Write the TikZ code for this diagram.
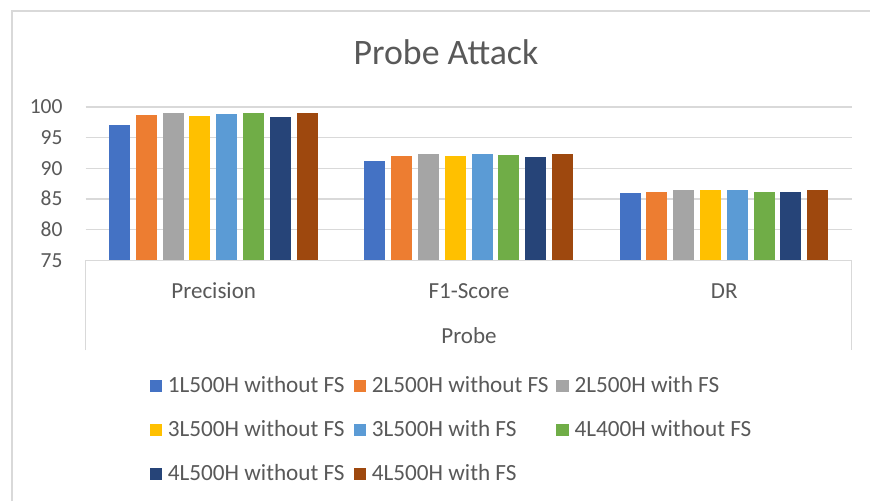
\documentclass[tikz,border=0pt]{standalone}
\usepackage{fontspec}
\setmainfont{Carlito}
\definecolor{txt}{HTML}{595959}
\definecolor{rule}{HTML}{D9D9D9}
\definecolor{c0}{HTML}{4472C4}
\definecolor{c1}{HTML}{ED7D31}
\definecolor{c2}{HTML}{A5A5A5}
\definecolor{c3}{HTML}{FFC000}
\definecolor{c4}{HTML}{5B9BD5}
\definecolor{c5}{HTML}{70AD47}
\definecolor{c6}{HTML}{264478}
\definecolor{c7}{HTML}{9E480E}
\tikzset{
  rulestyle/.style={draw=rule, line width=1.5pt},
  ticklabel/.style={text=txt, inner sep=0pt, font=\fontsize{21.5}{24}\selectfont, anchor=base east},
  catlabel/.style={text=txt, inner sep=0pt, font=\fontsize{23}{26}\selectfont, anchor=base},
  legtext/.style={text=txt, inner sep=0pt, font=\fontsize{23.2}{26}\selectfont, anchor=base west},
  legkey/.style={minimum size=12.7pt, inner sep=0pt, anchor=north west},
  titlestyle/.style={text=txt, inner sep=0pt, font=\fontsize{35.8}{40}\selectfont, anchor=base}
}
\begin{document}
\begin{tikzpicture}[x=1pt, y=-1pt]
\useasboundingbox (0,0) rectangle (870,501);
\fill[white] (0,0) rectangle (870,501);

% chart frame (open on the right and bottom)
\draw[rulestyle] (12,501) -- (12,11) -- (870,11);

% title
\node[titlestyle] (title) at (446,64.3) {Probe Attack};

% horizontal gridlines
\foreach \v in {80,85,90,95,100}
  \draw[rulestyle] (85.7,{260.3-(\v-75)*6.132}) -- (851.7,{260.3-(\v-75)*6.132});

% value axis labels
\foreach \v in {75,80,85,90,95,100}
  \node[ticklabel] (tick\v) at (62.7,{260.3-(\v-75)*6.132+6.9}) {\v};

% clustered bars: one group per metric, one bar per model
\foreach \vals [count=\g from 0] in {
    {97.1,98.65,99.0,98.5,98.9,99.1,98.3,99.0},
    {91.25,91.95,92.3,92.05,92.3,92.15,91.8,92.35},
    {86.0,86.1,86.4,86.5,86.5,86.1,86.1,86.5}} {
  \foreach \v [count=\j from 0] in \vals {
    \pgfmathsetmacro\xl{109+\g*255.33+\j*26.8}
    \fill[c\j] (\xl,260.3) rectangle ++(21,{-(\v-75)*6.132});
  }
}

% category axis box
\draw[rulestyle] (85.7,350) -- (85.7,260.3) -- (851.7,260.3) -- (851.7,350);

% category labels
\node[catlabel] (catP) at (213.7,298.3) {Precision};
\node[catlabel] (catF) at (469,298.3) {F1-Score};
\node[catlabel] (catD) at (724.3,298.3) {DR};
\node[catlabel] (group) at (469,343.5) {Probe};

% legend
\foreach \col/\x/\y/\name [count=\k] in {
    c0/149.3/379.3/1L500H without FS,
    c1/353.3/379.3/2L500H without FS,
    c2/556.0/379.3/2L500H with FS,
    c3/149.3/423.3/3L500H without FS,
    c4/353.3/423.3/3L500H with FS,
    c5/556.0/423.3/4L400H without FS,
    c6/149.3/467.3/4L500H without FS,
    c7/353.3/467.3/4L500H with FS} {
  \node[legkey, fill=\col] (key\k) at (\x,\y) {};
  \node[legtext] (leg\k) at (\x+18.4,\y+13.2) {\name};
}
\end{tikzpicture}
\end{document}
